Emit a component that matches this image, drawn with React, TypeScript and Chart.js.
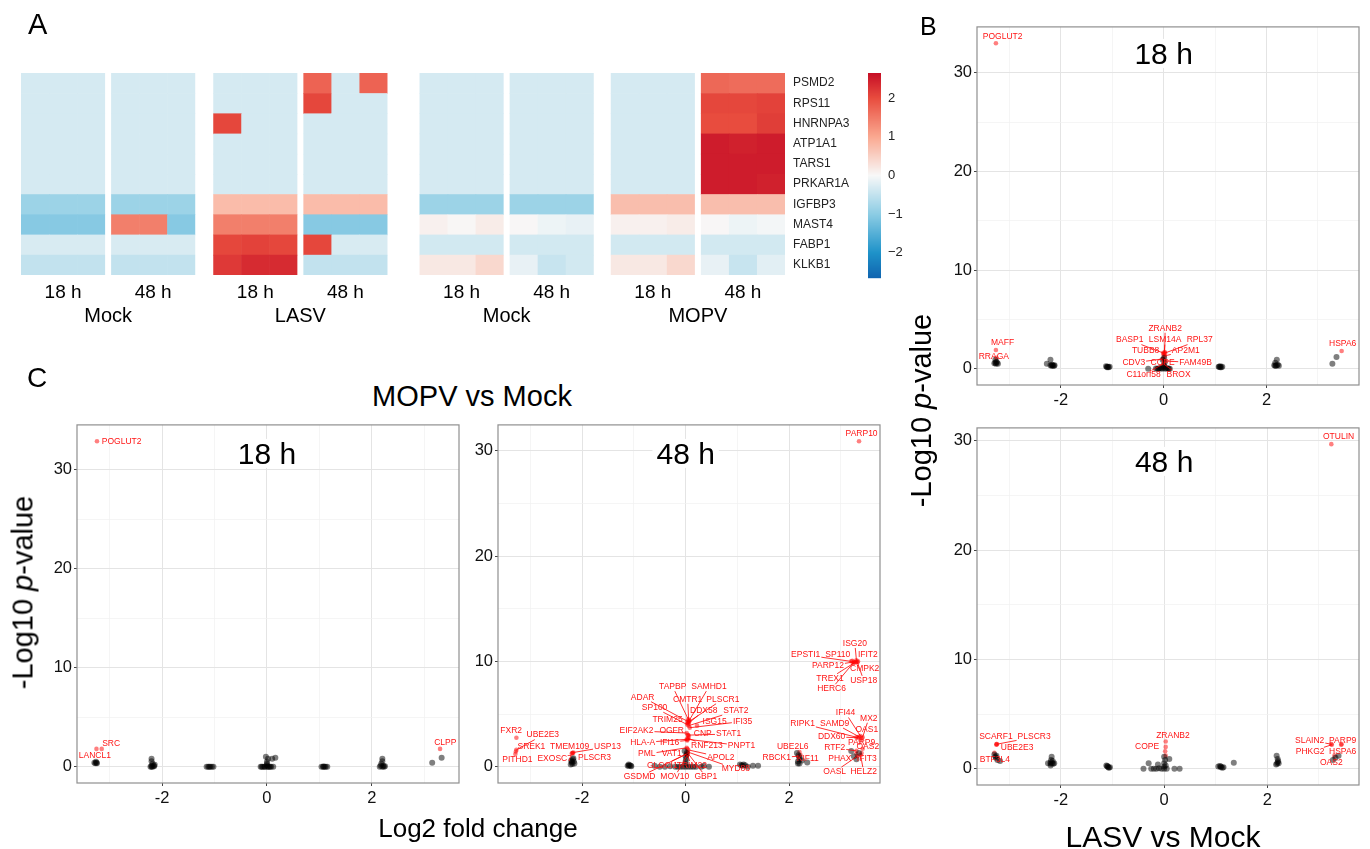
import React, { useEffect, useRef } from 'react';
import { Chart, registerables } from 'chart.js';

Chart.register(...registerables);

const FONT = '"Liberation Sans", Arial, Helvetica, sans-serif';

// ================= Panel A : heatmap data =================
const heatGenes = ['PSMD2', 'RPS11', 'HNRNPA3', 'ATP1A1', 'TARS1', 'PRKAR1A', 'IGFBP3', 'MAST4', 'FABP1', 'KLKB1'];
const heatTimes = ['18 h', '48 h'];
const heatGroups = ['Mock', 'LASV', 'Mock', 'MOPV'];
const heatLegendTicks = [2, 1, 0, -1, -2];
const heatLegendLimit = 2.65;

// 24 columns: Mock18 | Mock48 | LASV18 | LASV48 | Mock18 | Mock48 | MOPV18 | MOPV48 (3 replicates each)
const hPSMD2 = [-0.32, -0.32, -0.32, -0.32, -0.32, -0.32, -0.32, -0.32, -0.32, 1.75, -0.32, 1.75, -0.32, -0.32, -0.32, -0.32, -0.32, -0.32, -0.32, -0.32, -0.32, 1.7, 1.65, 1.65];
const hRPS11 = [-0.32, -0.32, -0.32, -0.32, -0.32, -0.32, -0.32, -0.32, -0.32, 2.05, -0.32, -0.32, -0.32, -0.32, -0.32, -0.32, -0.32, -0.32, -0.32, -0.32, -0.32, 2.05, 2.05, 2.1];
const hHNRNPA3 = [-0.32, -0.32, -0.32, -0.32, -0.32, -0.32, 2.05, -0.32, -0.32, -0.32, -0.32, -0.32, -0.32, -0.32, -0.32, -0.32, -0.32, -0.32, -0.32, -0.32, -0.32, 2.0, 2.0, 2.15];
const hATP1A1 = [-0.32, -0.32, -0.32, -0.32, -0.32, -0.32, -0.32, -0.32, -0.32, -0.32, -0.32, -0.32, -0.32, -0.32, -0.32, -0.32, -0.32, -0.32, -0.32, -0.32, -0.32, 2.5, 2.45, 2.5];
const hTARS1 = [-0.32, -0.32, -0.32, -0.32, -0.32, -0.32, -0.32, -0.32, -0.32, -0.32, -0.32, -0.32, -0.32, -0.32, -0.32, -0.32, -0.32, -0.32, -0.32, -0.32, -0.32, 2.5, 2.5, 2.5];
const hPRKAR1A = [-0.32, -0.32, -0.32, -0.32, -0.32, -0.32, -0.32, -0.32, -0.32, -0.32, -0.32, -0.32, -0.32, -0.32, -0.32, -0.32, -0.32, -0.32, -0.32, -0.32, -0.32, 2.5, 2.5, 2.45];
const hIGFBP3 = [-0.85, -0.85, -0.85, -0.85, -0.85, -0.85, 0.75, 0.75, 0.75, 0.75, 0.75, 0.75, -0.85, -0.85, -0.85, -0.85, -0.85, -0.85, 0.72, 0.72, 0.72, 0.72, 0.72, 0.72];
const hMAST4 = [-1.05, -1.05, -1.05, 1.45, 1.45, -1.05, 1.45, 1.45, 1.45, -1.05, -1.05, -1.05, 0.1, 0.03, 0.15, 0.02, -0.1, -0.15, 0.1, 0.1, 0.15, 0.02, -0.1, -0.05];
const hFABP1 = [-0.3, -0.3, -0.3, -0.3, -0.3, -0.3, 2.05, 2.1, 2.05, 2.05, -0.3, -0.3, -0.35, -0.35, -0.35, -0.35, -0.35, -0.35, -0.35, -0.35, -0.35, -0.35, -0.35, -0.35];
const hKLKB1 = [-0.5, -0.5, -0.5, -0.5, -0.5, -0.5, 2.2, 2.35, 2.35, -0.5, -0.5, -0.5, 0.2, 0.2, 0.4, -0.15, -0.45, -0.35, 0.2, 0.2, 0.4, -0.15, -0.45, -0.2];
const heatRows = [hPSMD2, hRPS11, hHNRNPA3, hATP1A1, hTARS1, hPRKAR1A, hIGFBP3, hMAST4, hFABP1, hKLKB1];

// ================= Panel B : LASV vs Mock =================
// 18 h
const b18BgFc = [-3.29, -3.27, -3.26, -3.25, -3.24, -3.27, -3.22, -2.27, -2.2, -2.2, -2.18, -2.16, -2.15, -2.13, -2.17, -2.12, -1.12, -1.1, -1.1, -1.08, -1.07, -1.05, -0.3, -0.15, -0.12, -0.1, -0.08, -0.05, -0.03, 0, 0.03, 0.05, 0.08, 0.1, 0.12, 0, 0.02, -0.02, 0.01, 1.07, 1.08, 1.1, 1.1, 1.12, 1.14, 2.15, 2.17, 2.18, 2.2, 2.22, 2.24, 2.2, 2.17, 3.28, 3.36];
const b18BgP = [0.55, 0.6, 0.5, 0.7, 0.6, 0.9, 0.5, 0.5, 0.9, 0.35, 0.3, 0.35, 0.3, 0.3, 0.4, 0.35, 0.25, 0.2, 0.15, 0.2, 0.15, 0.2, 0, 0.02, 0, 0, 0.05, 0.05, 0, 0.1, 0, 0.05, 0.05, 0, 0, 0.3, 0.6, 0.9, 1.1, 0.2, 0.2, 0.25, 0.15, 0.15, 0.2, 0.35, 0.3, 0.3, 0.35, 0.4, 0.3, 0.9, 0.6, 0.5, 1.2];
const b18Genes = ['POGLUT2', 'MAFF', 'RRAGA', 'HSPA6', 'ZRANB2', 'BASP1', 'LSM14A', 'RPL37', 'TUBB8', 'AP2M1', 'CDV3', 'COPE', 'FAM49B', 'C11orf58', 'BROX'];
const b18Fc = [-3.26, -3.26, -3.25, 3.46, 0.02, -0.01, 0.01, 0.03, 0, 0.02, -0.01, 0, 0.02, 0, 0.02];
const b18P = [33.0, 1.9, 1.1, 1.8, 1.7, 1.6, 1.55, 1.6, 1.4, 1.3, 1.0, 0.9, 0.8, 0.5, 0.4];
const b18LabFc = [-3.13, -3.13, -3.3, 3.48, 0.03, -0.66, 0.03, 0.7, -0.35, 0.43, -0.58, -0.02, 0.62, -0.39, 0.29];
const b18LabP = [33.7, 2.6, 1.2, 2.5, 4.1, 2.9, 2.9, 2.9, 1.8, 1.8, 0.6, 0.6, 0.6, -0.6, -0.6];

// 48 h
const b48BgFc = [-3.29, -3.27, -3.26, -3.25, -3.23, -3.18, -2.25, -2.2, -2.18, -2.2, -2.17, -2.15, -2.2, -2.13, -2.19, -2.16, -1.12, -1.1, -1.1, -1.08, -1.07, -1.05, -0.4, -0.3, -0.25, -0.2, -0.15, -0.1, -0.05, -0.12, 0, 0, 0, 0.02, 0, 0.05, 0.1, 0.2, 0.3, 0.03, 1.05, 1.08, 1.1, 1.1, 1.13, 1.15, 1.35, 2.17, 2.18, 2.2, 2.2, 2.22, 2.19, 2.21, 3.27, 3.32, 3.38];
const b48BgP = [1.3, 1.1, 1.0, 1.2, 0.8, 0.7, 0.5, 0.6, 1.1, 0.45, 0.5, 0.45, 0.3, 0.5, 0.8, 0.7, 0.3, 0.2, 0.25, 0.15, 0.1, 0.15, 0, 0.5, 0, 0, 0, 0.05, 0, 0.4, 0, 0.2, 0.5, 0.8, 1.1, 0, 0.9, 0, 0, 0.3, 0.2, 0.25, 0.15, 0.2, 0.1, 0.15, 0.55, 0.4, 1.2, 0.6, 0.9, 0.5, 0.45, 0.7, 0.8, 1.0, 1.2];
const b48Genes = ['OTULIN', 'SCARF1', 'PLSCR3', 'UBE2E3', 'BTF3L4', 'ZRANB2', 'COPE', '', '', 'SLAIN2', 'PARP9', 'PHKG2', 'HSPA6', 'OAS2'];
const b48Fc = [3.24, -3.25, -3.24, -3.25, -3.29, 0.03, 0.03, 0.02, 0.03, 3.24, 3.44, 3.25, 3.43, 3.3];
const b48P = [29.7, 2.25, 2.25, 2.2, 1.45, 2.5, 2.0, 1.6, 1.2, 2.25, 2.25, 2.2, 2.2, 1.2];
const b48LabFc = [3.38, -3.26, -2.52, -2.85, -3.28, 0.17, -0.33, null, null, 2.82, 3.46, 2.83, 3.46, 3.24];
const b48LabP = [30.4, 2.9, 2.9, 1.9, 0.8, 3.0, 2.0, null, null, 2.6, 2.6, 1.55, 1.55, 0.55];

// ================= Panel C : MOPV vs Mock =================
// 18 h
const c18BgFc = [-3.29, -3.27, -3.26, -3.24, -3.25, -2.22, -2.2, -2.18, -2.2, -2.15, -2.14, -2.2, -2.18, -2.16, -2.2, -1.15, -1.12, -1.1, -1.08, -1.05, -1.02, -0.12, -0.1, -0.08, -0.05, -0.04, 0, 0.02, 0.04, 0.06, 0.08, 0.12, 0, -0.02, 0.02, 0, 0.1, 0.16, 0, 1.04, 1.07, 1.1, 1.12, 1.15, 1.08, 2.15, 2.18, 2.2, 2.22, 2.25, 2.2, 2.17, 2.2, 2.23, 3.15, 3.33];
const c18BgP = [0.4, 0.35, 0.5, 0.35, 0.4, 0, 0.8, 0.3, 0.1, 0.05, 0.2, 0.55, 0, 0.1, 0, 0, 0, 0, 0, 0, 0, 0, 0, 0, 0, 0, 0, 0, 0, 0, 0, 0, 0.5, 1.0, 0.8, 0.3, 0.8, 0.9, 0.15, 0, 0, 0, 0, 0, 0.02, 0, 0.3, 0.8, 0.1, 0.05, 0.55, 0.1, 0, 0, 0.4, 0.9];
const c18Genes = ['POGLUT2', 'SRC', 'LANCL1', 'CLPP'];
const c18Fc = [-3.24, -3.15, -3.25, 3.3];
const c18P = [32.9, 1.8, 1.8, 1.8];
const c18LabFc = [-2.77, -2.97, -3.28, 3.4];
const c18LabP = [32.9, 2.3, 1.1, 2.4];

// 48 h
const c48BgFc = [-2.22, -2.2, -2.18, -2.17, -2.15, -2.2, -2.19, -2.16, -2.21, -1.12, -1.1, -1.1, -1.08, -1.06, -1.05, -0.6, -0.5, -0.4, -0.3, -0.2, -0.15, -0.1, -0.05, 0, 0.05, 0.1, 0.15, 0.2, 0.3, 0.45, 0, 0, -0.02, 0.02, 0.35, 0, 0.01, 1.05, 1.08, 1.1, 1.12, 1.15, 1.2, 1.3, 1.4, 2.15, 2.2, 2.17, 2.2, 2.25, 2.35, 2.18, 2.2, 2.17, 3.2, 3.25, 3.3, 3.35];
const c48BgP = [0.2, 0.5, 0.7, 0.8, 0.3, 0.4, 0.25, 0.5, 0.6, 0.1, 0.2, 0.1, 0.15, 0.1, 0.05, 0.1, 0, 0, 0.05, 0, 0, 0, 0, 0, 0, 0, 0, 0, 0, 0, 0.5, 1.0, 1.5, 1.3, 0.1, 0.25, 0.75, 0.2, 0.15, 0.1, 0.2, 0.15, 0, 0.1, 0.1, 1.3, 0.9, 0.5, 0.3, 0.6, 0.4, 1.1, 0.7, 0.3, 1.5, 1.0, 0.7, 1.3];
const c48Genes = [
  'PARP10', 'ISG20', 'EPSTI1', 'SP110', 'IFIT2', 'PARP12', 'CMPK2', 'TREX1', 'USP18', 'HERC6',
  'TAPBP', 'SAMHD1', 'ADAR', 'CMTR1', 'PLSCR1', 'SP100', 'DDX58', 'STAT2', 'TRIM25', 'ISG15',
  'IFI35', 'EIF2AK2', 'OGFR', 'CNP', 'STAT1', 'HLA-A', 'IFI16', 'RNF213', 'PNPT1', 'PML',
  'VAT1', 'APOL2', 'MYD88', 'GLCCI1', 'TRIM22', 'GSDMD', 'MOV10', 'GBP1',
  'FXR2', 'UBE2E3', 'SREK1', 'PITHD1', 'TMEM109', 'USP13', 'EXOSC7', 'PLSCR3',
  'UBE2L6', 'RBCK1', 'KIF11',
  'IFI44', 'MX2', 'RIPK1', 'SAMD9', 'OAS1', 'DDX60', 'PARP9', 'RTF2', 'OAS2', 'PHAX', 'IFIT3', 'OASL', 'HELZ2',
];
const c48Fc = [
  3.35, 3.3, 3.2, 3.22, 3.33, 3.25, 3.3, 3.27, 3.32, 3.24,
  0.05, 0.07, 0.04, 0.06, 0.07, 0.03, 0.05, 0.06, 0.04, 0.22,
  0.08, 0.02, 0.04, 0.06, 0.05, 0.02, 0.03, 0.05, 0.04, 0.02,
  0.03, 0.05, 0.04, 0.01, 0.03, 0.02, 0.03, 0.04,
  -3.27, -3.27, -3.28, -3.29, -2.19, -2.17, -2.2, -2.18,
  2.2, 2.18, 2.22,
  3.38, 3.42, 3.3, 3.35, 3.4, 3.33, 3.38, 3.3, 3.42, 3.3, 3.4, 3.32, 3.38,
];
const c48P = [
  30.9, 10.1, 10.0, 10.05, 10.0, 9.95, 9.95, 9.9, 9.9, 9.85,
  4.5, 4.4, 4.3, 4.2, 4.3, 4.0, 4.1, 3.9, 4.2, 3.9,
  3.7, 3.2, 3.0, 2.9, 3.0, 2.6, 2.5, 2.7, 2.6, 1.8,
  1.7, 1.6, 1.4, 1.2, 1.1, 1.2, 1.1, 1.3,
  2.75, 1.6, 1.45, 1.2, 1.3, 1.35, 1.25, 1.3,
  1.4, 1.0, 1.1,
  2.9, 2.8, 2.8, 2.85, 2.7, 2.75, 2.5, 1.5, 1.7, 1.2, 1.3, 1.0, 1.1,
];
const c48LabFc = [
  3.4, 3.27, 2.32, 2.94, 3.52, 2.75, 3.46, 2.79, 3.44, 2.82,
  -0.25, 0.45, -0.83, 0.04, 0.72, -0.6, 0.35, 0.97, -0.35, 0.56,
  1.1, -0.95, -0.27, 0.33, 0.83, -0.83, -0.31, 0.41, 1.08, -0.75,
  -0.27, 0.68, 0.97, -0.45, 0.12, -0.89, -0.21, 0.39,
  -3.37, -2.76, -2.98, -3.25, -2.24, -1.51, -2.53, -1.76,
  2.07, 1.76, 2.36,
  3.09, 3.54, 2.26, 2.88, 3.5, 2.82, 3.4, 2.88, 3.52, 2.98, 3.5, 2.88, 3.44,
];
const c48LabP = [
  31.6, 11.7, 10.6, 10.6, 10.6, 9.55, 9.3, 8.4, 8.2, 7.4,
  7.6, 7.6, 6.6, 6.4, 6.4, 5.6, 5.3, 5.3, 4.5, 4.3,
  4.3, 3.4, 3.4, 3.1, 3.1, 2.3, 2.3, 2.0, 2.0, 1.2,
  1.2, 0.9, -0.2, 0.1, 0.1, -0.95, -0.95, -0.95,
  3.4, 3.0, 1.9, 0.66, 1.9, 1.9, 0.76, 0.85,
  1.9, 0.85, 0.76,
  5.1, 4.6, 4.1, 4.1, 3.5, 2.85, 2.3, 1.8, 1.9, 0.76, 0.76, -0.47, -0.47,
];

const xTickValues = [-3, -2, -1, 0, 1, 2, 3];
const yTickValues = [0, 5, 10, 15, 20, 25, 30];

// ================= helpers =================
const HEAT_STOPS: [number, number[]][] = [
  [-2.65, [16, 100, 176]],
  [-2, [30, 146, 201]],
  [-1, [140, 204, 228]],
  [0, [248, 248, 248]],
  [1, [250, 168, 144]],
  [2, [232, 76, 62]],
  [2.65, [198, 14, 38]],
];
function heatColor(v: number): string {
  const s = HEAT_STOPS;
  if (v <= s[0][0]) return `rgb(${s[0][1].join(',')})`;
  for (let i = 1; i < s.length; i++) {
    if (v <= s[i][0]) {
      const t = (v - s[i - 1][0]) / (s[i][0] - s[i - 1][0]);
      const c = s[i - 1][1].map((a, k) => Math.round(a + (s[i][1][k] - a) * t));
      return `rgb(${c.join(',')})`;
    }
  }
  return `rgb(${s[s.length - 1][1].join(',')})`;
}

const CELL_PX = 28;
const BLOCK_GAPS_PX = [0, 6, 18, 6, 32, 6, 17, 6];
const blockOffsets: number[] = [];
BLOCK_GAPS_PX.forEach((g, i) => blockOffsets.push((i ? blockOffsets[i - 1] : 0) + g / CELL_PX));
const HEAT_XMAX = 24 + blockOffsets[7];
const colX = (c: number) => c + blockOffsets[Math.floor(c / 3)];

const heatmapPlugin = {
  id: 'heatmapCells',
  afterDraw(chart: any) {
    const { ctx, chartArea: a } = chart;
    const xs = chart.scales.x;
    const ys = chart.scales.y;
    ctx.save();
    heatRows.forEach((row, r) => {
      const y0 = ys.getPixelForValue(r);
      const y1 = ys.getPixelForValue(r + 1);
      row.forEach((v, c) => {
        const x0 = xs.getPixelForValue(colX(c));
        const x1 = xs.getPixelForValue(colX(c) + 1);
        const ex = c % 3 < 2 ? 0.6 : 0;
        const ey = r < heatRows.length - 1 ? 0.6 : 0;
        ctx.fillStyle = heatColor(v);
        ctx.fillRect(x0, y0, x1 - x0 + ex, y1 - y0 + ey);
      });
    });
    ctx.fillStyle = '#222';
    ctx.font = `12px ${FONT}`;
    ctx.textAlign = 'left';
    ctx.textBaseline = 'middle';
    heatGenes.forEach((g, r) => ctx.fillText(g, a.right + 8, ys.getPixelForValue(r + 0.5)));

    ctx.fillStyle = '#000';
    ctx.font = `19px ${FONT}`;
    ctx.textAlign = 'center';
    ctx.textBaseline = 'alphabetic';
    for (let b = 0; b < 8; b++) {
      const cx = (xs.getPixelForValue(colX(b * 3)) + xs.getPixelForValue(colX(b * 3) + 3)) / 2;
      ctx.fillText(heatTimes[b % 2], cx, a.bottom + 23);
    }
    ctx.font = `20px ${FONT}`;
    heatGroups.forEach((g, k) => {
      const cx = (xs.getPixelForValue(colX(k * 6)) + xs.getPixelForValue(colX(k * 6 + 5) + 1)) / 2;
      ctx.fillText(g, cx, a.bottom + 47);
    });

    const cbL = a.right + 83;
    const cbW = 13;
    const cbT = a.top;
    const cbH = 205;
    const span = 2 * heatLegendLimit;
    for (let i = 0; i < cbH; i++) {
      const v = heatLegendLimit - ((i + 0.5) / cbH) * span;
      ctx.fillStyle = heatColor(v);
      ctx.fillRect(cbL, cbT + i, cbW, 1.2);
    }
    ctx.fillStyle = '#222';
    ctx.font = `13px ${FONT}`;
    ctx.textAlign = 'left';
    ctx.textBaseline = 'middle';
    heatLegendTicks.forEach((t) => {
      const y = cbT + ((heatLegendLimit - t) / span) * cbH;
      ctx.fillText(t < 0 ? '\u2212' + Math.abs(t) : String(t), cbL + cbW + 7, y);
    });
    ctx.restore();
  },
};

function HeatmapChart() {
  const ref = useRef<HTMLCanvasElement>(null);
  useEffect(() => {
    const W = 920;
    const H = 340;
    const chart = new Chart(ref.current as HTMLCanvasElement, {
      type: 'scatter',
      data: { datasets: [{ data: [] }] },
      options: {
        animation: false,
        responsive: false,
        events: [],
        layout: { padding: { left: 21, top: 73, right: W - 785, bottom: H - 275 } },
        plugins: { legend: { display: false }, tooltip: { enabled: false } },
        scales: {
          x: { type: 'linear', min: 0, max: HEAT_XMAX, display: false },
          y: { type: 'linear', min: 0, max: heatGenes.length, reverse: true, display: false },
        },
      },
      plugins: [heatmapPlugin],
    } as any);
    return () => chart.destroy();
  }, []);
  return <canvas ref={ref} width={920} height={340} style={{ position: 'absolute', left: 0, top: 0, width: 920, height: 340 }} />;
}

type Volcano = {
  title: string;
  titleBaseline: number;
  bgFc: number[];
  bgP: number[];
  genes: string[];
  fc: number[];
  p: number[];
  labFc: (number | null)[];
  labP: (number | null)[];
  left: number;
  top: number;
  width: number;
  height: number;
};

const VOLCANOS: Volcano[] = [
  { title: '18 h', titleBaseline: 37, bgFc: b18BgFc, bgP: b18BgP, genes: b18Genes, fc: b18Fc, p: b18P, labFc: b18LabFc, labP: b18LabP, left: 977, top: 25, width: 382, height: 360 },
  { title: '48 h', titleBaseline: 44, bgFc: b48BgFc, bgP: b48BgP, genes: b48Genes, fc: b48Fc, p: b48P, labFc: b48LabFc, labP: b48LabP, left: 977, top: 426, width: 382, height: 359 },
  { title: '18 h', titleBaseline: 39, bgFc: c18BgFc, bgP: c18BgP, genes: c18Genes, fc: c18Fc, p: c18P, labFc: c18LabFc, labP: c18LabP, left: 77, top: 423, width: 382, height: 360 },
  { title: '48 h', titleBaseline: 39, bgFc: c48BgFc, bgP: c48BgP, genes: c48Genes, fc: c48Fc, p: c48P, labFc: c48LabFc, labP: c48LabP, left: 498, top: 423, width: 382, height: 360 },
];

const AX_W = 48;
const AX_H = 32;
const PAD_T = 10;
const PAD_R = 10;

function expand(vals: number[]): [number, number] {
  const mn = Math.min(...vals);
  const mx = Math.max(...vals);
  const pad = (mx - mn) * 0.05;
  return [mn - pad, mx + pad];
}

function makeVolcanoPlugin(v: Volcano) {
  return {
    id: 'volcanoExtras',
    afterDatasetsDraw(chart: any) {
      const { ctx } = chart;
      const xs = chart.scales.x;
      const ys = chart.scales.y;
      ctx.save();
      ctx.font = `8.5px ${FONT}`;
      const items: any[] = [];
      v.genes.forEach((g, i) => {
        const lx = v.labFc[i];
        const ly = v.labP[i];
        if (!g || lx == null || ly == null) return;
        items.push({
          g,
          px: xs.getPixelForValue(v.fc[i]),
          py: ys.getPixelForValue(v.p[i]),
          cx: xs.getPixelForValue(lx),
          cy: ys.getPixelForValue(ly),
          hw: ctx.measureText(g).width / 2 + 1,
        });
      });
      ctx.strokeStyle = 'rgba(255,0,0,0.9)';
      ctx.lineWidth = 0.9;
      const hh = 4.5;
      items.forEach((it) => {
        const dx = it.px - it.cx;
        const dy = it.py - it.cy;
        if (Math.abs(dx) <= it.hw && Math.abs(dy) <= hh) return;
        const t = Math.min(dx ? it.hw / Math.abs(dx) : Infinity, dy ? hh / Math.abs(dy) : Infinity);
        const ex = it.cx + dx * t;
        const ey = it.cy + dy * t;
        if (Math.hypot(it.px - ex, it.py - ey) < 6) return;
        ctx.beginPath();
        ctx.moveTo(ex, ey);
        ctx.lineTo(it.px, it.py);
        ctx.stroke();
      });
      ctx.fillStyle = '#ff1414';
      ctx.textAlign = 'center';
      ctx.textBaseline = 'middle';
      items.forEach((it) => ctx.fillText(it.g, it.cx, it.cy));
      ctx.restore();
    },
    afterDraw(chart: any) {
      const { ctx, chartArea: a } = chart;
      const xs = chart.scales.x;
      ctx.save();
      ctx.font = `30px ${FONT}`;
      const tw = ctx.measureText(v.title).width;
      const tx = xs.getPixelForValue(0);
      const ty = a.top + v.titleBaseline;
      ctx.fillStyle = '#fff';
      ctx.fillRect(tx - tw / 2 - 4, ty - 25, tw + 8, 29);
      ctx.fillStyle = '#000';
      ctx.textAlign = 'center';
      ctx.textBaseline = 'alphabetic';
      ctx.fillText(v.title, tx, ty);
      ctx.strokeStyle = '#8f8f8f';
      ctx.lineWidth = 1.2;
      ctx.strokeRect(a.left, a.top, a.right - a.left, a.bottom - a.top);
      ctx.restore();
    },
  };
}

function VolcanoChart({ v }: { v: Volcano }) {
  const ref = useRef<HTMLCanvasElement>(null);
  const cw = v.width + AX_W + PAD_R;
  const ch = v.height + PAD_T + AX_H;
  useEffect(() => {
    const [xMin, xMax] = expand([...v.bgFc, ...v.fc]);
    const [yMin, yMax] = expand([0, ...v.bgP, ...v.p]);
    const gridColor = (major: boolean) => (major ? '#e4e4e4' : '#f0f0f0');
    const chart = new Chart(ref.current as HTMLCanvasElement, {
      type: 'scatter',
      data: {
        datasets: [
          {
            data: v.bgFc.map((x, i) => ({ x, y: v.bgP[i] })),
            backgroundColor: 'rgba(0,0,0,0.5)',
            borderWidth: 0,
            pointRadius: 3,
          },
          {
            data: v.fc.map((x, i) => ({ x, y: v.p[i] })),
            backgroundColor: 'rgba(255,0,0,0.5)',
            borderWidth: 0,
            pointRadius: 2.3,
          },
        ],
      },
      options: {
        animation: false,
        responsive: false,
        events: [],
        layout: { padding: { top: PAD_T, right: PAD_R, left: 0, bottom: 0 } },
        plugins: { legend: { display: false }, tooltip: { enabled: false } },
        scales: {
          x: {
            type: 'linear',
            min: xMin,
            max: xMax,
            bounds: 'data',
            afterBuildTicks: (s: any) => {
              s.ticks = xTickValues.map((value) => ({ value }));
            },
            afterFit: (s: any) => {
              s.height = AX_H;
            },
            border: { display: false },
            grid: {
              color: (c: any) => gridColor(c.tick && c.tick.value % 2 === 0),
              lineWidth: (c: any) => (c.tick && c.tick.value % 2 === 0 ? 1 : 0.7),
              tickLength: 3,
              tickColor: (c: any) => (c.tick && c.tick.value % 2 === 0 ? '#444' : 'rgba(0,0,0,0)'),
            },
            ticks: {
              autoSkip: false,
              maxRotation: 0,
              padding: 3,
              color: '#111',
              font: { family: FONT, size: 16.5 },
              callback: (val: any) => (Number(val) % 2 === 0 ? String(val) : ''),
            },
          },
          y: {
            type: 'linear',
            min: yMin,
            max: yMax,
            bounds: 'data',
            afterBuildTicks: (s: any) => {
              s.ticks = yTickValues.map((value) => ({ value }));
            },
            afterFit: (s: any) => {
              s.width = AX_W;
            },
            border: { display: false },
            grid: {
              color: (c: any) => gridColor(c.tick && c.tick.value % 10 === 0),
              lineWidth: (c: any) => (c.tick && c.tick.value % 10 === 0 ? 1 : 0.7),
              tickLength: 3,
              tickColor: (c: any) => (c.tick && c.tick.value % 10 === 0 ? '#444' : 'rgba(0,0,0,0)'),
            },
            ticks: {
              autoSkip: false,
              padding: 2,
              color: '#111',
              font: { family: FONT, size: 16.5 },
              callback: (val: any) => (Number(val) % 10 === 0 ? String(val) : ''),
            },
          },
        },
      },
      plugins: [makeVolcanoPlugin(v)],
    } as any);
    return () => chart.destroy();
  }, []);
  return (
    <canvas
      ref={ref}
      width={cw}
      height={ch}
      style={{ position: 'absolute', left: v.left - AX_W, top: v.top - PAD_T, width: cw, height: ch }}
    />
  );
}

const textBase: React.CSSProperties = {
  position: 'absolute',
  fontFamily: FONT,
  color: '#000',
  lineHeight: 1,
  whiteSpace: 'nowrap',
};

function CenterText({ cx, top, size, children }: { cx: number; top: number; size: number; children: React.ReactNode }) {
  return <div style={{ ...textBase, left: cx - 200, width: 400, top, fontSize: size, textAlign: 'center' }}>{children}</div>;
}

function VertText({ cx, cy, size, children }: { cx: number; cy: number; size: number; children: React.ReactNode }) {
  return (
    <div
      style={{
        ...textBase,
        left: cx - 150,
        top: cy - size / 2,
        width: 300,
        height: size,
        fontSize: size,
        lineHeight: `${size}px`,
        textAlign: 'center',
        transform: 'rotate(-90deg)',
      }}
    >
      {children}
    </div>
  );
}

export default function App() {
  return (
    <div style={{ position: 'absolute', left: 0, top: 0, width: 1370, height: 849, background: '#fff', overflow: 'hidden' }}>
      <HeatmapChart />
      {VOLCANOS.map((v, i) => (
        <VolcanoChart key={i} v={v} />
      ))}
      <div style={{ ...textBase, left: 28, top: 10, fontSize: 29 }}>A</div>
      <div style={{ ...textBase, left: 920, top: 14, fontSize: 25 }}>B</div>
      <div style={{ ...textBase, left: 27, top: 364, fontSize: 28 }}>C</div>
      <CenterText cx={472} top={382} size={29}>MOPV vs Mock</CenterText>
      <CenterText cx={478} top={815} size={26}>Log2 fold change</CenterText>
      <CenterText cx={1163} top={822} size={30}>LASV vs Mock</CenterText>
      <VertText cx={23} cy={592} size={29}>
        -Log10 <i>p</i>-value
      </VertText>
      <VertText cx={921} cy={410} size={29}>
        -Log10 <i>p</i>-value
      </VertText>
    </div>
  );
}
